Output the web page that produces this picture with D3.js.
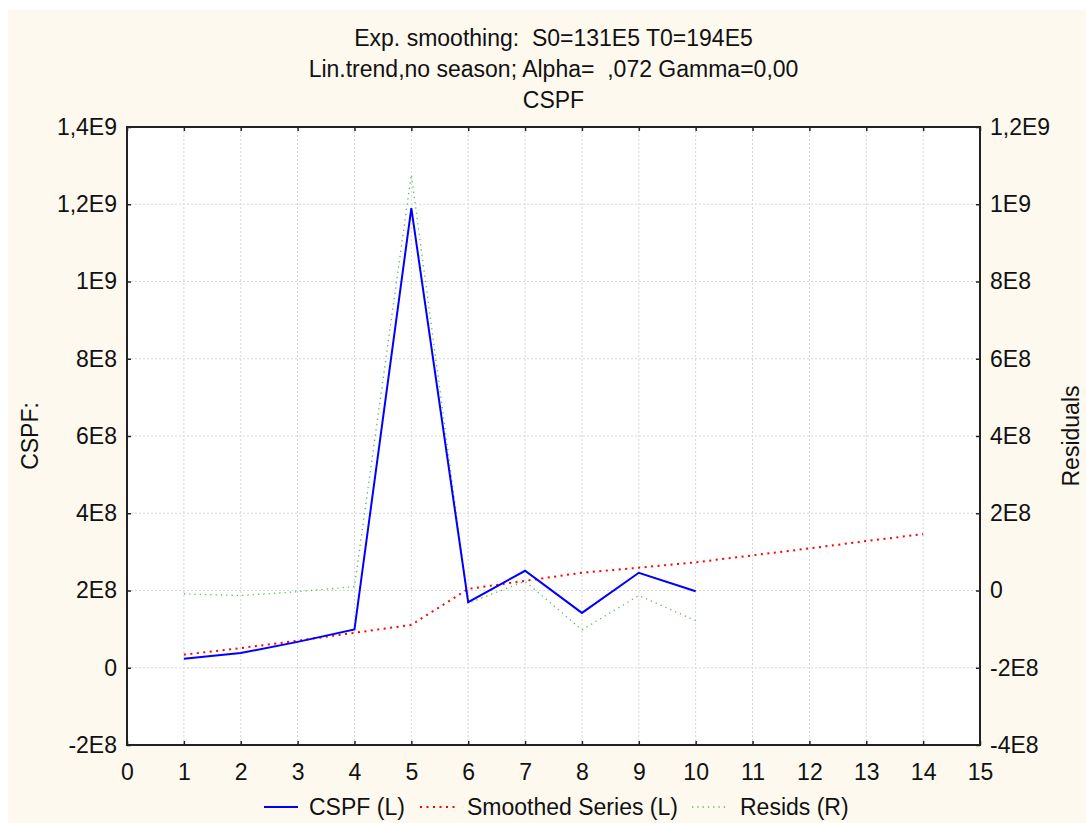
<!DOCTYPE html>
<html><head><meta charset="utf-8">
<script src="https://cdn.jsdelivr.net/npm/d3@7"></script>
<style>body{margin:0;background:#fff}svg{display:block}text{font-family:"Liberation Sans",Arial,sans-serif;fill:#111;white-space:pre}</style>
</head><body>
<svg id="c" width="1086" height="823"></svg>
<script>
const titleLines = ["Exp. smoothing:  S0=131E5 T0=194E5", "Lin.trend,no season; Alpha=  ,072 Gamma=0,00", "CSPF"];
const xTicks = [0,1,2,3,4,5,6,7,8,9,10,11,12,13,14,15];
const leftTicks = [-2e8,0,2e8,4e8,6e8,8e8,1e9,1.2e9,1.4e9];
const leftTickLabels = ["-2E8","0","2E8","4E8","6E8","8E8","1E9","1,2E9","1,4E9"];
const rightTicks = [-4e8,-2e8,0,2e8,4e8,6e8,8e8,1e9,1.2e9];
const rightTickLabels = ["-4E8","-2E8","0","2E8","4E8","6E8","8E8","1E9","1,2E9"];
const cspfX = [1,2,3,4,5,6,7,8,9,10];
const cspf = [2.3e7,3.8e7,6.7e7,9.9e7,1.19e9,1.70e8,2.51e8,1.42e8,2.46e8,1.98e8];
const smoothX = [1,2,3,4,5,6,7,8,9,10,11,12,13,14];
const smoothed = [3.4e7,5.1e7,7.0e7,9.05e7,1.11e8,2.04e8,2.25e8,2.46e8,2.59e8,2.73e8,2.91e8,3.09e8,3.28e8,3.46e8];
const residX = [1,2,3,4,5,6,7,8,9,10];
const resids = [-9e6,-1.3e7,-3e6,1.0e7,1.077e9,-3.3e7,2.4e7,-1.02e8,-1.3e7,-7.8e7];
const legendItems = ["CSPF (L)","Smoothed Series (L)","Resids (R)"];

const svg = d3.select("#c");
const L=127, R=980, T=127, B=745;
svg.append("rect").attr("x",8).attr("y",10).attr("width",1078).attr("height",813).attr("fill","#fdf9ee");
svg.append("rect").attr("x",L).attr("y",T).attr("width",R-L).attr("height",B-T).attr("fill","#fff");

const x = d3.scaleLinear().domain([0,15]).range([L,R]);
const yL = d3.scaleLinear().domain([-2e8,1.4e9]).range([B,T]);
const yR = d3.scaleLinear().domain([-4e8,1.2e9]).range([B,T]);

// grid
const g = svg.append("g");
g.selectAll(".vg").data(xTicks.slice(1,-1)).join("line")
  .attr("x1",d=>x(d)).attr("x2",d=>x(d)).attr("y1",T).attr("y2",B)
  .attr("stroke","#d6d6d6").attr("stroke-width",1).attr("stroke-dasharray","2,2");
g.selectAll(".hg").data(leftTicks.slice(1,-1)).join("line")
  .attr("x1",L).attr("x2",R).attr("y1",d=>yL(d)).attr("y2",d=>yL(d))
  .attr("stroke","#d6d6d6").attr("stroke-width",1).attr("stroke-dasharray","2,2");

// series
const lineL = (xs)=>d3.line().x((d,i)=>x(xs[i])).y(d=>yL(d));
const lineR = (xs)=>d3.line().x((d,i)=>x(xs[i])).y(d=>yR(d));
svg.append("path").datum(resids).attr("d",lineR(residX)).attr("fill","none")
  .attr("stroke","#62b862").attr("stroke-width",1.3).attr("stroke-dasharray","1.3,4");
svg.append("path").datum(smoothed).attr("d",lineL(smoothX)).attr("fill","none")
  .attr("stroke","#ff0000").attr("stroke-width",2).attr("stroke-dasharray","2,4.5");
svg.append("path").datum(cspf).attr("d",lineL(cspfX)).attr("fill","none")
  .attr("stroke","#0000ff").attr("stroke-width",2);

// axes
const fs = "23px";
const axB = d3.axisBottom(x).tickValues(xTicks).tickSize(-4).tickPadding(19).tickFormat(d=>d);
const axT = d3.axisTop(x).tickValues(xTicks).tickSize(-4).tickFormat("");
const axLf = d3.axisLeft(yL).tickValues(leftTicks).tickSize(-4).tickPadding(10).tickFormat((d,i)=>leftTickLabels[i]);
const axRt = d3.axisRight(yR).tickValues(rightTicks).tickSize(-4).tickPadding(10).tickFormat((d,i)=>rightTickLabels[i]);
function style(sel){
  sel.selectAll(".tick line").attr("stroke","#222").attr("stroke-width",1.5);
  sel.selectAll("text").style("font-family","Liberation Sans, Arial, sans-serif").style("font-size",fs).attr("fill","#111");
}
svg.append("g").attr("transform",`translate(0,${B})`).call(axB).call(style);
svg.append("g").attr("transform",`translate(0,${T})`).call(axT).call(style);
svg.append("g").attr("transform",`translate(${L},0)`).call(axLf).call(style);
svg.append("g").attr("transform",`translate(${R},0)`).call(axRt).call(style);
svg.selectAll("path.domain").remove();
svg.append("rect").attr("x",L).attr("y",T).attr("width",R-L).attr("height",B-T)
  .attr("fill","none").attr("stroke","#222").attr("stroke-width",2);

// titles
svg.selectAll(".title").data(titleLines).join("text")
  .attr("x",(L+R)/2).attr("y",(d,i)=>46+i*31).attr("text-anchor","middle")
  .style("font-size",fs).text(d=>d);

// axis labels
svg.append("text").attr("transform",`translate(38,${(T+B)/2}) rotate(-90)`)
  .attr("text-anchor","middle").style("font-size",fs).text("CSPF:");
svg.append("text").attr("transform",`translate(1079,${(T+B)/2}) rotate(-90)`)
  .attr("text-anchor","middle").style("font-size",fs).text("Residuals");

// legend
const lg = svg.append("g");
const items = [
  {x0:264,x1:298,tx:309,color:"#0000ff",dash:null,w:2,label:legendItems[0]},
  {x0:420,x1:456,tx:467,color:"#ff0000",dash:"2,4.5",w:2,label:legendItems[1]},
  {x0:692,x1:727,tx:740,color:"#62b862",dash:"1.3,4",w:1.3,label:legendItems[2]}
];
items.forEach(it=>{
  lg.append("line").attr("x1",it.x0).attr("x2",it.x1).attr("y1",807).attr("y2",807)
    .attr("stroke",it.color).attr("stroke-width",it.w).attr("stroke-dasharray",it.dash);
  lg.append("text").attr("x",it.tx).attr("y",815).style("font-size",fs).text(it.label);
});
</script>
</body></html>
